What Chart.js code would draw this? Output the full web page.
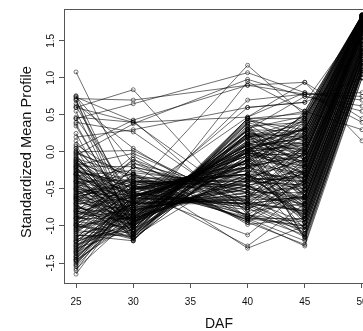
<!DOCTYPE html>
<html>
<head>
<meta charset="utf-8">
<script src="https://cdn.jsdelivr.net/npm/chart.js@4"></script>
<style>
  html, body { margin: 0; padding: 0; background: #fff; overflow: hidden; }
  #wrap { width: 380px; height: 331px; }
</style>
</head>
<body>
<div id="wrap"><canvas id="profileChart" width="380" height="331"></canvas></div>
<script>
// days after flowering (x positions) and tick labels
const daf = [25, 30, 40, 45, 50];
const xTicks = [25, 30, 35, 40, 45, 50];
const yTicks = [-1.5, -1.0, -0.5, 0.0, 0.5, 1.0, 1.5];

// standardized profiles, one row per gene: values at 25, 30, 40, 45, 50 DAF
const lowStart = [
  [-1.65, -0.62, -0.05, -0.2, 1.62], [-1.6, -0.55, -0.75, -0.62, 1.45],
  [-1.55, -0.71, 0.05, 0.05, 1.78], [-1.52, -0.48, -0.3, -0.85, 1.3],
  [-1.5, -0.8, -0.45, -0.3, 1.7], [-1.48, -0.66, 0.0, 0.12, 1.82],
  [-1.47, -0.9, -0.35, -0.1, 1.55], [-1.45, -0.58, -0.2, -0.45, 1.68],
  [-1.43, -0.75, -0.6, -0.7, 1.25], [-1.41, -0.52, -0.15, -0.35, 1.74],
  [-1.4, -0.85, 0.2, 0.3, 1.8], [-1.38, -0.62, -0.7, -0.15, 1.6],
  [-1.36, -0.95, -0.2, -0.05, 1.85], [-1.34, -0.45, -0.9, -1.0, 1.15],
  [-1.32, -0.7, 0.05, 0.2, 1.72], [-1.3, -0.6, -0.25, -0.55, 1.5],
  [-1.28, -0.78, -0.55, -0.25, 1.66], [-1.26, -1.0, 0.35, 0.4, 1.83],
  [-1.24, -0.5, -0.35, -0.75, 1.35], [-1.22, -0.88, 0.15, 0.02, 1.76],
  [-1.2, -0.68, -0.65, -0.4, 1.58], [-1.18, -1.05, -0.1, 0.1, 1.79]
];

const midStart = [
  [-1.12, -1.2, 0.45, 0.45, 1.84], [-1.1, -0.95, 0.3, -0.2, 1.62],
  [-1.08, -0.4, -0.45, -0.9, 1.2], [-1.06, -1.15, -0.2, 0.25, 1.8],
  [-1.04, -0.3, -0.95, -0.5, 1.45], [-1.02, -0.82, 0.1, -0.65, 1.38],
  [-1.0, -1.1, 0.4, 0.55, 1.85], [-0.98, -0.55, -0.75, -0.1, 1.7],
  [-0.96, -0.2, -0.55, -1.1, 1.05], [-0.94, -1.02, 0.25, -0.3, 1.64],
  [-0.92, -0.65, -0.05, -0.8, 1.28], [-0.9, -0.9, -0.45, 0.35, 1.82],
  [-0.88, -0.42, -0.3, -0.35, 1.6], [-0.86, -1.18, 0.05, 0.0, 1.77],
  [-0.84, -0.72, 0.02, -1.15, 1.1], [-0.82, -0.1, -0.7, -0.6, 1.42],
  [-0.8, -0.98, 0.3, 0.15, 1.8], [-0.78, -0.58, -0.78, -0.25, 1.68],
  [-0.76, -0.85, 0.12, -0.95, 1.22], [-0.74, -0.35, -0.4, -0.45, 1.52],
  [-0.72, -1.12, 0.0, 0.5, 1.84], [-0.7, -0.62, -0.02, -0.05, 1.75],
  [-0.68, -0.05, -0.9, -1.2, 1.0], [-0.66, -0.92, -0.35, -0.4, 1.6],
  [-0.64, -0.5, -0.2, -0.7, 1.4], [-0.62, -1.05, 0.42, 0.3, 1.81],
  [-0.6, -0.75, -0.62, 0.08, 1.73], [-0.58, -0.28, -0.45, -0.85, 1.25],
  [-0.56, -0.88, 0.18, -0.15, 1.66], [-0.54, -0.45, -0.85, -1.05, 1.12],
  [-0.52, -1.15, 0.25, 0.2, 1.79], [-0.5, -0.68, 0.0, -0.3, 1.63],
  [-0.48, -0.15, -0.55, -0.55, 1.48], [-0.46, -0.95, -0.3, 0.42, 1.83],
  [-0.44, -0.6, -0.12, -0.75, 1.32], [-0.42, -1.08, 0.38, -0.1, 1.72],
  [-0.4, -0.38, -0.92, -0.2, 1.65], [-0.38, -0.8, 0.1, -1.18, 1.08],
  [-0.36, -0.52, -0.22, 0.0, 1.76], [-0.34, -1.0, -0.1, 0.38, 1.82],
  [-0.32, -0.25, -0.5, -0.65, 1.36], [-0.3, -0.7, -0.6, -0.28, 1.6],
  [-0.28, -1.2, 0.35, -0.45, 1.55], [-0.26, -0.48, -0.25, -0.95, 1.18],
  [-0.24, -0.9, 0.2, 0.25, 1.8], [-0.22, -0.58, -0.7, -0.6, 1.44],
  [-0.2, -1.1, 0.1, 0.12, 1.78], [-0.18, -0.02, -0.7, -0.8, 1.3],
  [-0.16, -0.78, 0.05, -0.38, 1.62], [-0.14, -0.42, -0.85, -1.12, 1.15],
  [-0.12, -1.02, 0.32, 0.48, 1.85], [-0.1, -0.65, -0.05, -0.02, 1.74],
  [-0.08, -0.85, -0.45, -0.72, 1.35], [-1.15, -0.62, -0.1, -0.22, 1.7],
  [-0.95, -0.75, 0.0, 0.32, 1.81], [-0.65, -0.9, -0.38, -0.5, 1.5],
  [-0.85, -0.5, -0.3, -0.88, 1.27], [-0.55, -0.7, 0.08, 0.18, 1.77]
];

const midStartB = [
  [-1.3, -1.05, 0.38, -0.55, 1.5], [-1.25, -0.95, 0.2, 0.0, 1.72],
  [-1.15, -0.85, -0.1, 0.35, 1.83], [-1.05, -0.7, -0.65, -0.95, 1.2],
  [-0.97, -1.15, 0.15, 0.42, 1.85], [-0.9, -0.6, -0.15, -0.3, 1.66],
  [-0.83, -0.92, 0.22, -0.18, 1.7], [-0.77, -0.48, -0.88, -1.0, 1.15],
  [-0.73, -1.0, 0.3, 0.28, 1.8], [-0.69, -0.78, -0.5, -0.62, 1.4],
  [-0.63, -0.35, -0.35, -0.4, 1.58], [-0.59, -0.95, 0.25, 0.1, 1.78],
  [-0.53, -0.62, -0.7, -0.78, 1.3], [-0.49, -1.12, 0.45, 0.0, 1.74],
  [-0.45, -0.82, -0.4, -0.45, 1.55], [-0.41, -0.55, -0.12, 0.22, 1.8],
  [-0.37, -0.92, -0.15, -1.05, 1.12], [-0.33, -0.7, 0.02, -0.15, 1.68],
  [-0.29, -1.05, 0.1, 0.32, 1.82], [-0.25, -0.45, -0.3, -0.72, 1.35],
  [-0.21, -0.88, -0.4, -0.25, 1.64], [-0.17, -0.6, -0.05, 0.15, 1.79],
  [-0.13, -0.98, 0.25, -0.6, 1.45], [-0.09, -0.32, -0.92, -0.35, 1.6],
  [-1.35, -0.75, 0.12, -0.1, 1.73], [-1.45, -0.68, -0.68, -0.8, 1.33],
  [-1.1, -0.5, -0.2, 0.05, 1.76], [-0.99, -0.88, 0.22, -0.42, 1.57],
  [-0.79, -1.08, -0.05, -0.12, 1.69], [-0.61, -0.4, -0.3, -0.9, 1.22]
];

const lateRise = [
  [-1.58, -0.88, -0.1, -0.35, 1.65], [-1.53, -0.6, -0.35, 0.25, 1.8],
  [-1.46, -0.95, 0.15, -0.6, 1.4], [-1.42, -0.72, -0.5, -0.2, 1.62],
  [-1.37, -0.55, -0.15, -0.9, 1.2], [-1.33, -0.82, 0.2, 0.45, 1.84],
  [-1.27, -0.65, -0.6, -0.45, 1.55], [-1.21, -0.98, 0.0, 0.1, 1.78],
  [-1.17, -0.45, -0.3, -0.65, 1.35], [-1.13, -1.12, 0.25, -0.15, 1.7],
  [-1.07, -0.7, -0.7, -1.05, 1.15], [-1.03, -0.88, 0.12, 0.3, 1.82],
  [-0.99, -1.18, 0.05, -0.3, 1.6], [-0.93, -0.4, -0.4, 0.05, 1.75],
  [-0.89, -0.78, -0.55, -0.75, 1.3], [-0.87, -1.05, 0.45, 0.52, 1.85],
  [-0.81, -0.6, -0.2, -0.5, 1.5], [-0.75, -0.9, -0.35, -0.1, 1.68],
  [-0.71, -1.15, 0.2, 0.38, 1.83], [-0.67, -0.55, -0.72, -1.1, 1.08],
  [-0.63, -0.82, 0.0, -0.28, 1.62], [-0.57, -0.38, -0.5, 0.1, 1.77],
  [-0.51, -1.0, -0.1, -0.7, 1.38], [-0.47, -0.68, 0.05, 0.2, 1.8],
  [-0.43, -0.3, -0.85, -0.95, 1.22], [-0.39, -0.92, 0.28, -0.05, 1.72],
  [-0.35, -0.58, -0.25, -0.4, 1.58], [-0.31, -1.1, -0.05, 0.45, 1.84],
  [-0.27, -0.42, -0.45, -0.82, 1.28], [-0.23, -0.75, 0.1, -0.2, 1.66],
  [-0.19, -0.2, -0.6, 0.0, 1.74], [-0.15, -0.95, -0.3, -1.15, 1.1],
  [-0.11, -0.5, -0.15, 0.3, 1.81], [-0.06, -0.8, -0.5, -0.5, 1.47],
  [-0.03, -1.05, 0.4, 0.15, 1.79], [0.02, -0.62, -0.65, -0.62, 1.4],
  [0.08, -0.9, 0.0, 0.5, 1.84], [0.15, -0.75, -0.38, -0.35, 1.6],
  [0.25, -1.15, 0.3, -0.1, 1.7], [0.55, -1.05, -0.2, -0.05, 1.72],
  [0.7, -0.95, -0.1, -0.6, 1.45], [0.38, -1.0, 0.05, 0.25, 1.78]
];

const highStart = [
  [1.08, -0.5, -0.45, -0.3, 1.6], [0.76, -0.85, 0.1, 0.3, 1.8],
  [0.74, 0.42, -0.9, -0.9, 1.2], [0.72, 0.7, 0.9, 0.78, 0.75],
  [0.7, -1.1, 0.45, 0.2, 1.78], [0.65, 0.05, -0.88, -0.55, 1.4],
  [0.6, 0.4, -0.7, -1.0, 1.1], [0.6, 0.84, -0.85, -0.4, 1.55],
  [0.45, 0.65, 1.07, 0.8, 0.4], [0.45, -0.6, -0.3, 0.55, 1.84],
  [0.4, 0.27, -0.8, -0.7, 1.3], [0.35, -0.95, 0.0, -0.2, 1.7],
  [0.2, 0.3, 0.6, 0.67, 1.0], [0.1, -0.4, -0.55, -0.85, 1.25],
  [0.05, 0.43, 0.9, 0.94, 0.15], [0.05, -1.2, 0.25, 0.05, 1.75],
  [0.0, 0.02, -0.75, -1.15, 1.05], [-0.02, -0.3, -0.65, 0.0, 1.65],
  [-0.05, 0.38, 0.98, 0.75, 0.55], [0.75, -0.15, -0.78, -0.4, 1.5],
  [0.62, -0.7, -0.2, 0.45, 1.82], [0.47, 0.4, 0.47, 0.8, 0.7]
];

const dip40 = [
  [-0.6, -0.45, -1.27, -0.7, 1.4], [-0.9, -0.3, -1.3, -1.0, 1.2],
  [-0.3, -0.55, -1.12, -0.5, 1.55], [-1.0, -0.2, -0.95, -1.25, 1.1],
  [-0.7, -0.1, -0.98, -0.9, 1.3], [0.0, -0.35, -0.92, -1.27, 1.0]
];

const lateDrop = [
  [-0.5, -0.6, 0.47, 0.94, 0.45], [-0.3, -0.8, 0.7, 0.78, 0.8],
  [-0.8, -0.9, 0.3, 0.75, 0.62], [-1.2, -0.7, 0.6, 0.67, 1.75],
  [-0.4, -1.0, 0.95, 0.55, 0.3], [-0.2, -0.5, 1.17, 0.5, 1.45]
];

const profiles = [].concat(lowStart, midStart, midStartB, lateRise, highStart, dip40, lateDrop);

const datasets = profiles.map((row) => ({
  data: row.map((v, i) => ({ x: daf[i], y: v })),
  borderColor: "rgba(0, 0, 0, 0.72)",
  borderWidth: 0.8,
  pointRadius: 2,
  pointBorderWidth: 0.7,
  pointBorderColor: "rgba(0, 0, 0, 0.75)",
  pointBackgroundColor: "rgba(0, 0, 0, 0)",
  tension: 0,
  fill: false,
}));

// box round the plot region, like R's box()
const frame = {
  id: "frame",
  afterDraw(chart) {
    const { ctx, chartArea: a } = chart;
    ctx.save();
    ctx.strokeStyle = "#555";
    ctx.lineWidth = 1;
    ctx.strokeRect(a.left + 0.5, a.top + 0.5, a.right - a.left, a.bottom - a.top);
    ctx.restore();
  },
};

const tickFont = { family: "Liberation Sans, Arial, sans-serif", size: 10 };
const titleFont = { family: "Liberation Sans, Arial, sans-serif", size: 14.6, lineHeight: 1 };

new Chart(document.getElementById("profileChart"), {
  type: "line",
  data: { datasets: datasets },
  plugins: [frame],
  options: {
    responsive: false,
    animation: false,
    devicePixelRatio: 1,
    layout: { padding: { top: 9, right: 6, bottom: 0, left: 0 } },
    plugins: { legend: { display: false }, tooltip: { enabled: false } },
    scales: {
      x: {
        type: "linear",
        min: 23.95,
        max: 51.05,
        afterBuildTicks: (s) => { s.ticks = xTicks.map((v) => ({ value: v })); },
        afterFit: (s) => { s.height = 48; },
        grid: { drawOnChartArea: false, drawTicks: true, tickLength: 5, color: "#555" },
        border: { display: false },
        ticks: { font: tickFont, color: "#111", padding: 8, maxRotation: 0, autoSkip: false },
        title: { display: true, text: "DAF", font: { family: titleFont.family, size: 14, lineHeight: 1 }, color: "#111", padding: 0 },
      },
      y: {
        type: "linear",
        min: -1.77,
        max: 1.93,
        afterBuildTicks: (s) => { s.ticks = yTicks.map((v) => ({ value: v })); },
        afterFit: (s) => { s.width = 64; },
        grid: { drawOnChartArea: false, drawTicks: true, tickLength: 5, color: "#555" },
        border: { display: false },
        ticks: {
          font: tickFont,
          color: "#111",
          minRotation: 90,
          maxRotation: 90,
          crossAlign: "center",
          padding: -1,
          callback: (v) => v.toFixed(1),
        },
        title: { display: true, text: "Standardized Mean Profile   ", font: titleFont, color: "#111", padding: { top: 20 } },
      },
    },
  },
});
</script>
</body>
</html>
